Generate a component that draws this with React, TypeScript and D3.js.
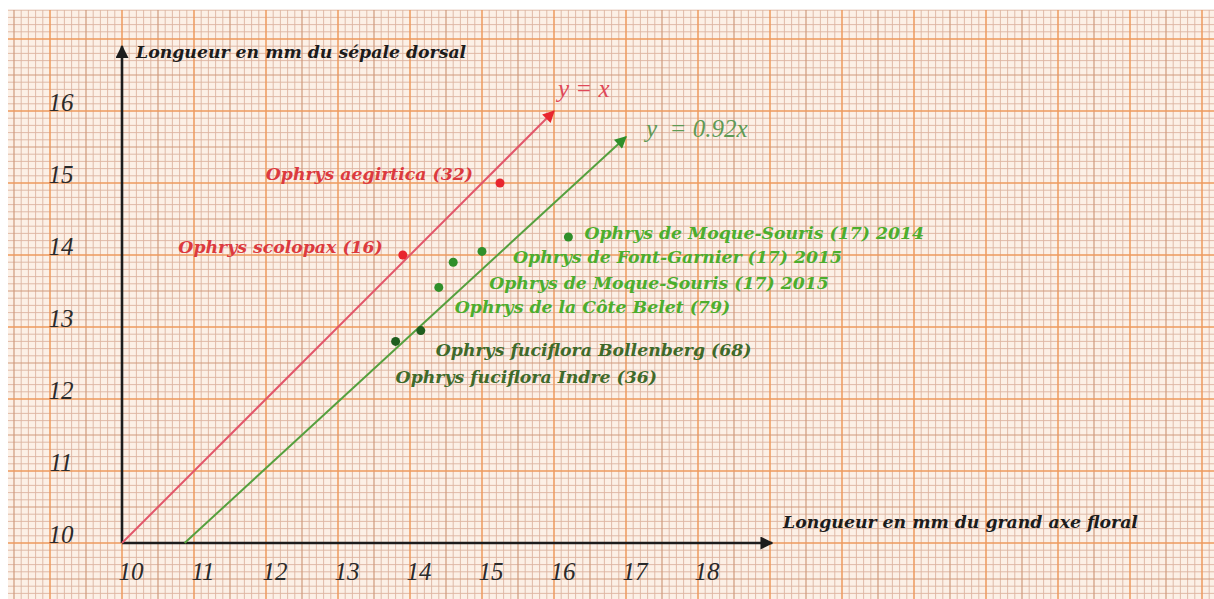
import React from "react";
import * as d3 from "d3";

// ---------- data ----------
const xTickValues = [10, 11, 12, 13, 14, 15, 16, 17, 18];
const yTickValues = [10, 11, 12, 13, 14, 15, 16];

const speciesNames = [
  "Ophrys aegirtica (32)",
  "Ophrys scolopax (16)",
  "Ophrys de Moque-Souris (17) 2014",
  "Ophrys de Font-Garnier (17) 2015",
  "Ophrys de Moque-Souris (17) 2015",
  "Ophrys de la Côte Belet (79)",
  "Ophrys fuciflora Bollenberg (68)",
  "Ophrys fuciflora Indre (36)",
];
// longueur du grand axe floral (mm)
const floralAxis = [15.25, 13.9, 16.2, 15.0, 14.6, 14.4, 14.15, 13.8];
// longueur du sépale dorsal (mm)
const dorsalSepal = [15.0, 14.0, 14.25, 14.05, 13.9, 13.55, 12.95, 12.8];
const speciesGroup = ["red", "red", "green", "green", "green", "green", "dark", "dark"];

const slopeRed = 1;
const slopeGreen = 0.92;
const redLineEnd = 16;
const greenLineEnd = 17;
const xAxisEnd = 19.03;
const yAxisEnd = 16.9;

const xTitle = "Longueur en mm du grand axe floral";
const yTitle = "Longueur en mm du sépale dorsal";

// ---------- layout / style ----------
const W = 1214;
const H = 599;
const x = d3.scaleLinear().domain([10, 11]).range([122, 194]);
const y = d3.scaleLinear().domain([10, 11]).range([543, 471]);

const labelLayout = [
  { dx: -27, dy: -3, anchor: "end" },
  { dx: -20, dy: -2, anchor: "end" },
  { dx: 16, dy: 2, anchor: "start" },
  { dx: 31, dy: 12, anchor: "start" },
  { dx: 36, dy: 27, anchor: "start" },
  { dx: 16, dy: 26, anchor: "start" },
  { dx: 15, dy: 25, anchor: "start" },
  { dx: 0, dy: 42, anchor: "start" },
];

const pointColor: Record<string, string> = { red: "#e8262e", green: "#2f8f2a", dark: "#1f5e1e" };
const textColor: Record<string, string> = { red: "#dc3a3e", green: "#4cae2e", dark: "#3f6a2a" };

const labelFont = "'DejaVu Serif', serif";
const labelSize = 17.3;

export default function App() {
  // graph paper extents in data units
  const gx0 = x.invert(8), gx1 = x.invert(W);
  const gy0 = y.invert(H), gy1 = y.invert(10);
  const vTenths = d3.range(Math.ceil(gx0 * 10), Math.floor(gx1 * 10) + 1);
  const hTenths = d3.range(Math.ceil(gy0 * 10), Math.floor(gy1 * 10) + 1);

  const lineStyle = (k: number) => {
    if (k % 10 === 0) return { stroke: "#ee9a5c", w: 1.5 };
    if (k % 5 === 0) return { stroke: "#cf9a7c", w: 1.2 };
    return { stroke: "#dcb4a0", w: 0.9 };
  };

  const line = d3.line<[number, number]>().x((d) => x(d[0])).y((d) => y(d[1]));
  const redPts: [number, number][] = [[10, 10 * slopeRed], [redLineEnd, redLineEnd * slopeRed]];
  const greenPts: [number, number][] = [[10 / slopeGreen, 10], [greenLineEnd, greenLineEnd * slopeGreen]];

  return (
    <svg width={W} height={H} style={{ position: "absolute", left: 0, top: 0, background: "#fff" }}>
      <defs>
        <marker id="arBlack" viewBox="0 0 10 10" refX="9" refY="5" markerWidth="5" markerHeight="5" orient="auto" markerUnits="strokeWidth">
          <path d="M0,0 L10,5 L0,10 z" fill="#1c1c1c" />
        </marker>
        <marker id="arRed" viewBox="0 0 10 10" refX="9" refY="5" markerWidth="7" markerHeight="6" orient="auto" markerUnits="strokeWidth">
          <path d="M0,0 L10,5 L0,10 z" fill="#e8262e" />
        </marker>
        <marker id="arGreen" viewBox="0 0 10 10" refX="9" refY="5" markerWidth="7" markerHeight="6" orient="auto" markerUnits="strokeWidth">
          <path d="M0,0 L10,5 L0,10 z" fill="#2f8f2a" />
        </marker>
      </defs>

      {/* graph paper */}
      <rect x={8} y={10} width={W - 8} height={H - 10} fill="#fcf0e6" />
      <g>
        {vTenths.filter((k) => k % 5 !== 0).map((k) => {
          const s = lineStyle(k);
          return <line key={"vf" + k} x1={x(k / 10)} x2={x(k / 10)} y1={10} y2={H} stroke={s.stroke} strokeWidth={s.w} />;
        })}
        {hTenths.filter((k) => k % 5 !== 0).map((k) => {
          const s = lineStyle(k);
          return <line key={"hf" + k} y1={y(k / 10)} y2={y(k / 10)} x1={8} x2={W} stroke={s.stroke} strokeWidth={s.w} />;
        })}
        {vTenths.filter((k) => k % 5 === 0).map((k) => {
          const s = lineStyle(k);
          return <line key={"vm" + k} x1={x(k / 10)} x2={x(k / 10)} y1={10} y2={H} stroke={s.stroke} strokeWidth={s.w} />;
        })}
        {hTenths.filter((k) => k % 5 === 0).map((k) => {
          const s = lineStyle(k);
          return <line key={"hm" + k} y1={y(k / 10)} y2={y(k / 10)} x1={8} x2={W} stroke={s.stroke} strokeWidth={s.w} />;
        })}
      </g>

      {/* axes */}
      <line x1={x(10)} y1={y(10)} x2={x(xAxisEnd)} y2={y(10)} stroke="#1c1c1c" strokeWidth={2.6} markerEnd="url(#arBlack)" />
      <line x1={x(10)} y1={y(10)} x2={x(10)} y2={y(yAxisEnd)} stroke="#1c1c1c" strokeWidth={2.6} markerEnd="url(#arBlack)" />

      {/* tick labels */}
      {xTickValues.map((v) => (
        <text key={"xt" + v} x={x(v) + 9} y={580} textAnchor="middle" fontFamily="'Liberation Serif', serif" fontStyle="italic" fontSize={25} fill="#2a2a2a">
          {v}
        </text>
      ))}
      {yTickValues.map((v) => (
        <text key={"yt" + v} x={61} y={y(v)} textAnchor="middle" fontFamily="'Liberation Serif', serif" fontStyle="italic" fontSize={25} fill="#2a2a2a">
          {v}
        </text>
      ))}

      {/* axis titles */}
      <text x={136} y={58} fontFamily={labelFont} fontStyle="italic" fontWeight="bold" fontSize={labelSize} fill="#1c1c1c">
        {yTitle}
      </text>
      <text x={783} y={528} fontFamily={labelFont} fontStyle="italic" fontWeight="bold" fontSize={labelSize} fill="#1c1c1c">
        {xTitle}
      </text>

      {/* reference lines */}
      <path d={line(redPts) || ""} stroke="#e2566a" strokeWidth={2} fill="none" markerEnd="url(#arRed)" />
      <path d={line(greenPts) || ""} stroke="#55a03e" strokeWidth={2} fill="none" markerEnd="url(#arGreen)" />
      <text x={x(redLineEnd) + 4} y={97} fontFamily="'Liberation Serif', serif" fontStyle="italic" fontSize={25} fill="#e04858" style={{ whiteSpace: "pre" }}>
        {"y = x"}
      </text>
      <text x={x(greenLineEnd) + 20} y={137} fontFamily="'Liberation Serif', serif" fontStyle="italic" fontSize={25} fill="#5f9a55" style={{ whiteSpace: "pre" }}>
        {"y  = 0.92x"}
      </text>

      {/* points */}
      {floralAxis.map((fx, i) => (
        <circle key={"p" + i} cx={x(fx)} cy={y(dorsalSepal[i])} r={4.5} fill={pointColor[speciesGroup[i]]} />
      ))}

      {/* labels */}
      {speciesNames.map((name, i) => {
        const L = labelLayout[i];
        return (
          <text
            key={"l" + i}
            x={x(floralAxis[i]) + L.dx}
            y={y(dorsalSepal[i]) + L.dy}
            textAnchor={L.anchor}
            fontFamily={labelFont}
            fontStyle="italic"
            fontWeight="bold"
            fontSize={labelSize}
            fill={textColor[speciesGroup[i]]}
          >
            {name}
          </text>
        );
      })}
    </svg>
  );
}
